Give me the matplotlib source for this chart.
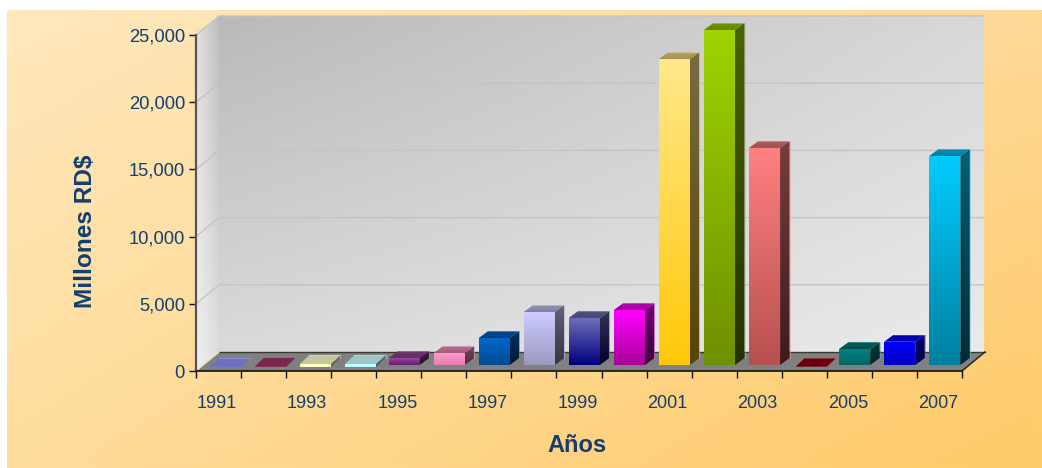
import numpy as np
import matplotlib
matplotlib.use("Agg")
import matplotlib.pyplot as plt
from matplotlib.colors import to_rgb
from matplotlib.patches import Polygon
from matplotlib.ticker import FuncFormatter

years = list(range(1991, 2008))
values = [10, 40, 220, 220, 520, 890, 2000, 3940, 3500, 4090,
          22770, 24930, 16150, 20, 1190, 1730, 15550]
top_colors = ["#9090F8", "#993366", "#FFFFCC", "#CCFFFF", "#9A4A9A", "#FF99CC",
              "#0066CC", "#CCCCFF", "#7070B8", "#FF00FF", "#FFE88A", "#9ED400",
              "#FF8080", "#880010", "#008080", "#0000FF", "#00CCFF"]
bottom_colors = ["#8888F0", "#88284F", "#FFFFB8", "#B8FFFF", "#6A1A6A", "#E880B0",
                 "#004A90", "#9A9AC0", "#000080", "#A80098", "#FFC808", "#6F9000",
                 "#B85050", "#880010", "#006868", "#0000C0", "#0080A0"]
y_ticks = [0, 5000, 10000, 15000, 20000, 25000]
y_max = 25000
x_title = "Años"
y_title = "Millones RD$"
text_color = "#123F70"

W, H = 1042, 468
plt.rcParams["font.family"] = ["Liberation Sans", "DejaVu Sans"]
fig = plt.figure(figsize=(W / 100, H / 100), dpi=100, facecolor="white")

bg = fig.add_axes([0, 0, 1, 1], zorder=0)
bg.set_xlim(0, W); bg.set_ylim(H, 0); bg.axis("off")
LEFT, RIGHT, FRONT_Y, TOP_Y = 196.0, 962.0, 371.0, 35.0
ax = fig.add_axes([LEFT / W, 1 - FRONT_Y / H, (RIGHT - LEFT) / W, (FRONT_Y - TOP_Y) / H], zorder=2)
ax.patch.set_visible(False)
n = len(years)
ax.set_xlim(0, n); ax.set_ylim(0, y_max)
px_x = n / (RIGHT - LEFT)
px_y = y_max / (FRONT_Y - TOP_Y)


def gradient(target, poly, tl, tr, bl, br, zorder):
    tl, tr, bl, br = [np.array(to_rgb(c) if isinstance(c, str) else c) for c in (tl, tr, bl, br)]
    u, v = np.meshgrid(np.linspace(0, 1, 48), np.linspace(0, 1, 48))
    u = u[..., None]; v = v[..., None]
    img = (1 - v) * ((1 - u) * tl + u * tr) + v * ((1 - u) * bl + u * br)
    xs = [p[0] for p in poly]; ys = [p[1] for p in poly]
    x0, x1, y0, y1 = min(xs), max(xs), min(ys), max(ys)
    ext = (x0, x1, y1, y0) if target is bg else (x0, x1, y0, y1)
    im = target.imshow(img, extent=ext, aspect="auto", interpolation="bilinear",
                       origin="upper", zorder=zorder)
    patch = Polygon(poly, closed=True, transform=target.transData, fill=False, edgecolor="none")
    im.set_clip_box(fig.bbox)
    im.set_clip_path(patch)
    return im


gradient(bg, [(7, 10), (W, 10), (W, H), (7, H)], "#FEE8BC", "#FFD998", "#FFDC9C", "#FFCA68", 1)
bg.set_xlim(0, W); bg.set_ylim(H, 0)


def wx(p):
    return (p - LEFT) * px_x


DX, DY = 23.0, 19.0
back = [(LEFT + DX, TOP_Y - DY), (RIGHT + DX - 1, TOP_Y - DY), (RIGHT + DX - 1, FRONT_Y - DY), (LEFT + DX, FRONT_Y - DY)]
gradient(bg, back, "#BABABA", "#D8D8D8", "#DADADA", "#EAEAEA", 2)
side = [(LEFT, TOP_Y), (LEFT + DX, TOP_Y - DY), (LEFT + DX, FRONT_Y - DY), (LEFT, FRONT_Y)]
gradient(bg, side, "#E2E2E2", "#BEBEBE", "#F0F0F0", "#DEDEDE", 2)
floor = [(LEFT, FRONT_Y), (RIGHT, FRONT_Y), (RIGHT + DX, FRONT_Y - DY), (LEFT + DX, FRONT_Y - DY)]
bg.add_patch(Polygon(floor, closed=True, facecolor="#808080", edgecolor="none", zorder=3))
bg.plot([LEFT + DX, RIGHT + DX], [FRONT_Y - DY] * 2, color="#3A3A30", lw=1.0, zorder=4)
bg.plot([LEFT, LEFT + DX], [FRONT_Y, FRONT_Y - DY], color="#F2E0B0", lw=1.0, zorder=4)
bg.plot([RIGHT, RIGHT + DX], [FRONT_Y, FRONT_Y - DY], color="#202020", lw=1.0, zorder=4)
bg.set_xlim(0, W); bg.set_ylim(H, 0)

for t in y_ticks[1:]:
    ax.plot([0, wx(LEFT + DX), n + DX * px_x - 1 * px_x],
            [t, t + DY * px_y, t + DY * px_y], color="#C4C4C4", lw=1.0,
            clip_on=False, zorder=1)

BW = 0.69
BAR_DX, BAR_DY = 5.3, 6.0
BAR_DEPTH_X, BAR_DEPTH_Y = 9.5, 7.0
FLAT_LIMIT = 300     # very low bars are drawn lower and deeper in the original


def shade(c, f):
    return tuple(np.array(to_rgb(c)) * f)


for i, (v, ct, cb) in enumerate(zip(values, top_colors, bottom_colors)):
    flat = v < FLAT_LIMIT
    x0 = i + 0.5 - BW / 2 + (BAR_DX + (1.5 if flat else 0)) * px_x
    x1 = x0 + BW
    y0 = (BAR_DY - (2.0 if flat else 0)) * px_y
    y1 = y0 + v
    ddx, ddy = BAR_DEPTH_X * px_x, (9.0 if flat else BAR_DEPTH_Y) * px_y
    front = [(x0, y1), (x1, y1), (x1, y0), (x0, y0)]
    gradient(ax, front, ct, ct, cb, cb, 5)
    right = [(x1, y0), (x1, y1), (x1 + ddx, y1 + ddy), (x1 + ddx, y0 + ddy)]
    gradient(ax, right, shade(ct, .47), shade(ct, .47), shade(cb, .34), shade(cb, .34), 4)
    top = [(x0, y1), (x1, y1), (x1 + ddx, y1 + ddy), (x0 + ddx, y1 + ddy)]
    f_back, f_front = (.78, .78) if flat else (.72, .62)
    gradient(ax, top, shade(ct, f_back), shade(ct, f_back), shade(ct, f_front), shade(ct, f_front), 5)
    edge = tuple(np.array(to_rgb(ct)) * 0.5 + 0.4)
    ax.plot([x0 + ddx, x1 + ddx, x1 + ddx], [y1 + ddy, y1 + ddy, y0 + ddy], color=edge,
            alpha=0.55, lw=0.7, clip_on=False, zorder=5.5)

ax.set_xlim(0, n); ax.set_ylim(0, y_max)

for s in ("top", "right"):
    ax.spines[s].set_visible(False)
ax.spines["left"].set_color("#555555")
ax.spines["left"].set_linewidth(1.6)
ax.spines["bottom"].set_color("#111111")
ax.spines["bottom"].set_linewidth(1.2)
ax.set_yticks(y_ticks)
ax.yaxis.set_major_formatter(FuncFormatter(lambda v, _: f"{int(v):,}"))
ax.tick_params(axis="y", length=5, width=1.0, color="#111111", pad=3,
               labelsize=13.2, labelcolor=text_color)
ax.set_xticks(range(n + 1))
ax.set_xticklabels([])
ax.set_xticks([i + 0.5 - 1.5 * px_x for i in range(0, n, 2)], minor=True)
ax.set_xticklabels([str(years[i]) for i in range(0, n, 2)], minor=True)
ax.tick_params(axis="x", which="major", length=5, width=1.0, color="#111111")
ax.tick_params(axis="x", which="minor", length=0, pad=17, labelsize=13, labelcolor=text_color)
ax.set_xlim(0, n); ax.set_ylim(0, y_max)

fig.text(577 / W, 1 - 445.5 / H, x_title, color=text_color, fontsize=17, fontweight="bold",
         ha="center", va="center")
fig.text(86 / W, 1 - 231 / H, y_title, color=text_color, fontsize=17.6, fontweight="bold",
         ha="center", va="center", rotation=90)

fig.savefig("out.png", dpi=100)
